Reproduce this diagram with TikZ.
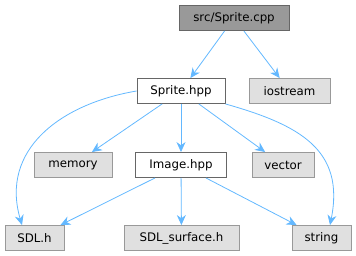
\documentclass[tikz,border=0pt]{standalone}
\usepackage{fontspec}
\setmainfont{DejaVu Sans}
\usetikzlibrary{arrows.meta}
\definecolor{edgeBlue}{HTML}{63B8FF}
\definecolor{rootFill}{HTML}{999999}
\definecolor{rootBorder}{HTML}{666666}
\definecolor{sysFill}{HTML}{E0E0E0}
\definecolor{sysBorder}{HTML}{999999}

\tikzset{
  file/.style={draw=rootBorder, fill=white, line width=0.9pt, minimum height=25pt,
    inner xsep=0pt, font=\fontsize{11.8}{13}\selectfont},
  rootfile/.style={file, fill=rootFill},
  sysfile/.style={file, draw=sysBorder, fill=sysFill},
  inc/.style={draw=edgeBlue, line width=0.8pt, -{Stealth[length=10pt,width=9pt]}}
}

\begin{document}
\begin{tikzpicture}[x=1pt, y=-1pt]
    \useasboundingbox (0,0) rectangle (356,256);

    \node[rootfile, minimum width=110pt] (cpp) at (234,18) {src/Sprite.cpp};
    \node[file, minimum width=88pt] (spr) at (181,91) {Sprite.hpp};
    \node[sysfile, minimum width=81pt] (ios) at (289.5,91) {iostream};
    \node[sysfile, minimum width=78pt] (mem) at (73,165) {memory};
    \node[file, minimum width=91pt] (img) at (181,165) {Image.hpp};
    \node[sysfile, minimum width=62pt] (vec) at (283,165) {vector};
    \node[sysfile, minimum width=59pt] (sdl) at (34.5,238) {SDL.h};
    \node[sysfile, minimum width=115pt] (surf) at (181.5,238) {SDL\_surface.h};
    \node[sysfile, minimum width=59pt] (str) at (321.5,238) {string};

    \draw[inc] (cpp) -- (spr);
    \draw[inc] (cpp) -- (ios);

    \draw[inc] (spr.west) .. controls (60,104) and (0,150) .. (sdl.north -| 22,0);
    \draw[inc] (spr) -- (mem);
    \draw[inc] (spr) -- (img);
    \draw[inc] (spr) -- (vec);
    \draw[inc] (spr.south east) .. controls (300,125) and (345,150) .. (str.north -| 330,0);

    \draw[inc] (img) -- (sdl);
    \draw[inc] (img) -- (surf);
    \draw[inc] (img) -- (str);
\end{tikzpicture}
\end{document}
